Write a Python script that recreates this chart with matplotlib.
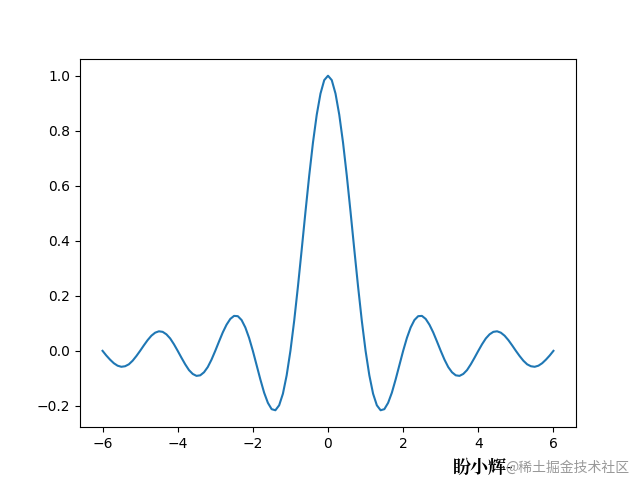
import numpy as np
import matplotlib.pyplot as plt

plt.rcParams['font.family'] = ['DejaVu Sans', 'Noto Sans CJK SC']

# x 取值与从图上读出的 y 值（关于 0 对称）
x_half = [round(0.1 * i, 1) for i in range(61)]
y_half = [1.0, 0.984, 0.935, 0.858, 0.757, 0.637, 0.505, 0.368, 0.234, 0.109,
          0.0, -0.089, -0.156, -0.198, -0.216, -0.212, -0.189, -0.152, -0.104, -0.052,
          0.0, 0.047, 0.085, 0.112, 0.126, 0.127, 0.116, 0.095, 0.067, 0.034,
          0.0, -0.032, -0.059, -0.078, -0.089, -0.091, -0.084, -0.070, -0.049, -0.025,
          0.0, 0.024, 0.045, 0.060, 0.069, 0.071, 0.066, 0.055, 0.039, 0.020,
          0.0, -0.019, -0.036, -0.049, -0.056, -0.058, -0.054, -0.045, -0.032, -0.017,
          0.0]

x = np.concatenate([-np.array(x_half[:0:-1]), x_half])
y = np.concatenate([np.array(y_half[:0:-1]), y_half])

fig = plt.figure(figsize=(6.4, 4.9), dpi=100)
ax = fig.add_axes([0.125, 0.1286, 0.775, 0.751])
ax.plot(x, y)

# 水印
fig.text(0.707, 0.035, '盼小辉-', family=['Noto Serif CJK SC', 'Noto Sans CJK SC'],
         fontsize=13, fontweight='bold', color='black')
fig.text(0.79, 0.037, '@稀土掘金技术社区', family=['Noto Sans CJK SC'],
         fontsize=10, color='#999999')

fig.savefig('out.png')
